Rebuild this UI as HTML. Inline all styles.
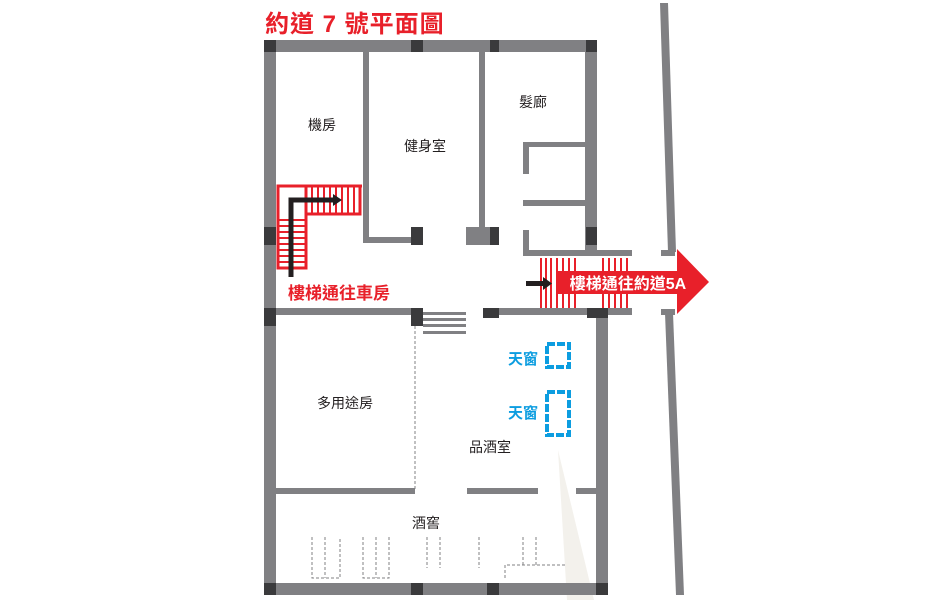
<!DOCTYPE html>
<html><head><meta charset="utf-8"><style>
html,body{margin:0;padding:0;background:#fff;}
svg{display:block;}
text{font-family:"Liberation Sans","Noto Sans CJK TC",sans-serif;}
</style></head><body>
<svg width="950" height="600" viewBox="0 0 950 600" xmlns="http://www.w3.org/2000/svg">
<rect width="950" height="600" fill="#fff"/>
<polygon points="558,450 567,600 594,600" fill="#f3f1ec"/>
<g fill="#808083">
<rect x="264" y="40" width="12" height="555"/>
<rect x="264" y="40" width="333" height="12"/>
<rect x="585" y="40" width="12" height="212"/>
<rect x="363" y="52" width="6" height="191"/>
<rect x="363" y="237" width="52" height="6"/>
<rect x="479" y="52" width="6" height="180"/>
<rect x="466" y="227" width="24" height="18"/>
<rect x="523" y="142" width="6" height="32"/>
<rect x="523" y="142" width="62" height="5"/>
<rect x="523" y="200" width="62" height="6"/>
<rect x="523" y="230" width="6" height="26"/>
<rect x="523" y="250" width="109" height="6"/>
<rect x="264" y="308" width="159" height="7"/>
<rect x="483" y="308" width="149" height="7"/>
<rect x="596" y="308" width="12" height="287"/>
<rect x="276" y="488" width="139" height="6"/>
<rect x="467" y="488" width="71" height="6"/>
<rect x="576" y="488" width="20" height="6"/>
<rect x="264" y="583" width="344" height="12"/>
<rect x="423" y="312" width="43" height="3"/>
<rect x="423" y="318" width="43" height="3"/>
<rect x="423" y="324" width="43" height="3"/>
<rect x="423" y="331" width="43" height="3"/>
<polygon points="660,3 668,3 676,252 668,252"/>
<rect x="661" y="250" width="14" height="6"/>
<rect x="661" y="309" width="14" height="6"/>
<polygon points="665,313 673,313 684,595 676,595"/>
</g>
<g fill="#3a3a3c">
<rect x="264" y="40" width="12" height="12"/>
<rect x="411" y="40" width="12" height="12"/>
<rect x="490" y="40" width="9" height="12"/>
<rect x="586" y="40" width="11" height="12"/>
<rect x="264" y="227" width="12" height="18"/>
<rect x="411" y="227" width="12" height="18"/>
<rect x="490" y="227" width="9" height="18"/>
<rect x="586" y="227" width="11" height="18"/>
<rect x="264" y="308" width="12" height="18"/>
<rect x="411" y="308" width="12" height="18"/>
<rect x="483" y="308" width="16" height="10"/>
<rect x="587" y="308" width="21" height="10"/>
<rect x="264" y="583" width="12" height="12"/>
<rect x="411" y="583" width="12" height="12"/>
<rect x="487" y="583" width="12" height="12"/>
<rect x="596" y="583" width="12" height="12"/>
</g>
<g stroke="#808083" stroke-width="1" stroke-dasharray="3,2" fill="none">
<line x1="415" y1="326" x2="415" y2="490"/>
<polyline points="312,537 312,578 340,578 340,537"/>
<line x1="325" y1="537" x2="325" y2="578"/>
<polyline points="363,537 363,578 389,578 389,537"/>
<line x1="376" y1="537" x2="376" y2="578"/>
<line x1="427" y1="537" x2="427" y2="568"/>
<line x1="440" y1="537" x2="440" y2="568"/>
<line x1="479" y1="537" x2="479" y2="568"/>
<line x1="523" y1="537" x2="523" y2="565"/>
<line x1="536" y1="537" x2="536" y2="565"/>
<polyline points="505,578 505,565 565,565"/>
</g>
<g stroke="#e8202a" fill="none" stroke-width="3">
<polyline points="278,268 278,186 362,186"/>
<rect x="278" y="186" width="28" height="82"/>
<rect x="306" y="186" width="54" height="28"/>
</g>
<g stroke="#e8202a" stroke-width="2">
<line x1="312" y1="186" x2="312" y2="214"/><line x1="318" y1="186" x2="318" y2="214"/>
<line x1="324" y1="186" x2="324" y2="214"/><line x1="330" y1="186" x2="330" y2="214"/>
<line x1="336" y1="186" x2="336" y2="214"/><line x1="342" y1="186" x2="342" y2="214"/>
<line x1="348" y1="186" x2="348" y2="214"/><line x1="354" y1="186" x2="354" y2="214"/>
<line x1="278" y1="220" x2="306" y2="220"/><line x1="278" y1="226" x2="306" y2="226"/>
<line x1="278" y1="232" x2="306" y2="232"/><line x1="278" y1="238" x2="306" y2="238"/>
<line x1="278" y1="244" x2="306" y2="244"/><line x1="278" y1="250" x2="306" y2="250"/>
<line x1="278" y1="256" x2="306" y2="256"/><line x1="278" y1="262" x2="306" y2="262"/>
</g>
<polyline points="291,277 291,200 334,200" stroke="#231f20" stroke-width="5" fill="none"/>
<polygon points="333,194 342,200 333,206" fill="#231f20"/>
<text x="339" y="299" font-size="17" font-weight="bold" fill="#e8202a" text-anchor="middle">樓梯通往車房</text>
<g stroke="#e8202a" stroke-width="2">
<line x1="541" y1="258" x2="541" y2="308"/><line x1="546" y1="258" x2="546" y2="308"/>
<line x1="551" y1="258" x2="551" y2="308"/><line x1="557" y1="258" x2="557" y2="308"/>
<line x1="563" y1="258" x2="563" y2="308"/><line x1="569" y1="258" x2="569" y2="308"/>
<line x1="575" y1="258" x2="575" y2="308"/><line x1="603" y1="258" x2="603" y2="308"/>
<line x1="609" y1="258" x2="609" y2="308"/><line x1="615" y1="258" x2="615" y2="308"/>
<line x1="621" y1="258" x2="621" y2="308"/><line x1="627" y1="258" x2="627" y2="308"/>
</g>
<polygon points="558,271 677,271 677,249 709,282 677,314 677,294 558,294" fill="#e8202a"/>
<text x="628" y="289" font-size="16" font-weight="bold" fill="#fff" text-anchor="middle">樓梯通往約道5A</text>
<rect x="526" y="281" width="18" height="5" fill="#231f20"/>
<polygon points="543,277 552,283.5 543,290" fill="#231f20"/>
<g stroke="#0c9de0" stroke-width="4" fill="none" stroke-dasharray="8,2">
<rect x="547" y="344" width="22" height="23"/>
<rect x="547" y="392" width="22" height="43"/>
</g>
<text x="523" y="364" font-size="15" font-weight="bold" fill="#0c9de0" text-anchor="middle">天窗</text>
<text x="523" y="418" font-size="15" font-weight="bold" fill="#0c9de0" text-anchor="middle">天窗</text>
<g font-size="14" fill="#231f20" text-anchor="middle">
<text x="322" y="130">機房</text>
<text x="425" y="151">健身室</text>
<text x="533" y="107">髮廊</text>
<text x="345" y="408">多用途房</text>
<text x="490" y="452">品酒室</text>
<text x="426" y="528">酒窖</text>
</g>
<text x="265" y="32" font-size="24" font-weight="bold" fill="#e8202a" letter-spacing="1">約道 7 號平面圖</text>
</svg>
</body></html>
